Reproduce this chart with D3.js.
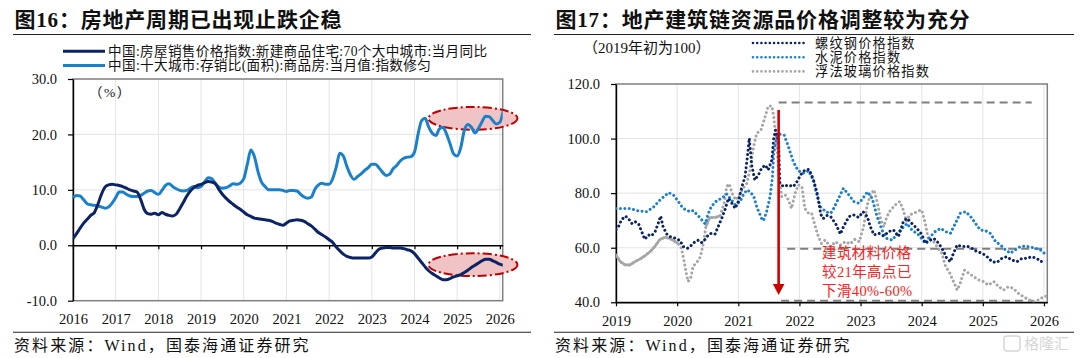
<!DOCTYPE html>
<html><head><meta charset="utf-8">
<script src="https://cdn.jsdelivr.net/npm/d3@7"></script>
<style>
html,body{margin:0;padding:0;background:#fff;}
svg{display:block;}
text{font-family:"Liberation Serif","Noto Sans CJK SC",serif;fill:#111;}
</style></head><body>
<svg id="c" width="1080" height="358"></svg>
<script>
// ---------------- LEFT CHART DATA (monthly, Jan 2016 onward) ----------------
const leftTitle = "图16：房地产周期已出现止跌企稳";
const leftLegend = ["中国:房屋销售价格指数:新建商品住宅:70个大中城市:当月同比", "中国:十大城市:存销比(面积):商品房:当月值:指数修匀"];
const leftYearTicks = [2016,2017,2018,2019,2020,2021,2022,2023,2024,2025,2026];
const leftValueTicks = [-10,0,10,20,30];
const priceYoY = [
 1.2,2.1,3.1,4.0,4.7,5.4,5.9,7.4,9.2,10.5,10.9,11.0,
 10.9,10.8,10.6,10.3,10.0,9.8,9.6,8.3,6.5,5.7,5.6,5.8,
 5.5,5.9,5.6,5.4,5.3,5.6,6.6,7.7,8.9,9.8,10.4,10.8,
 11.0,11.3,11.5,11.4,11.1,10.1,9.2,8.5,7.9,7.4,6.9,6.5,
 6.0,5.5,5.2,4.9,4.8,4.7,4.6,4.5,4.3,4.0,3.8,3.6,
 4.0,4.4,4.5,4.6,4.5,4.3,3.9,3.5,2.9,2.3,1.9,1.5,
 1.0,0.5,-0.3,-1.0,-1.6,-2.0,-2.2,-2.3,-2.3,-2.3,-2.3,-2.3,
 -2.1,-1.4,-0.7,-0.5,-0.4,-0.4,-0.5,-0.5,-0.5,-0.6,-0.8,-1.0,
 -1.5,-2.3,-3.1,-3.9,-4.6,-5.1,-5.5,-5.9,-6.2,-6.2,-6.0,-5.7,
 -5.5,-5.3,-4.9,-4.5,-4.0,-3.6,-3.2,-2.8,-2.5,-2.5,-2.8,-3.1,
 -3.4,-3.6];
const stockSalesRatio = [
 8.6,9.0,8.9,8.2,7.5,7.3,7.2,7.1,6.9,6.7,6.9,7.6,
 8.6,9.6,9.6,9.2,8.9,8.8,8.8,9.0,9.4,9.8,9.9,9.5,
 9.2,9.9,10.8,11.1,10.6,10.2,9.9,9.8,9.9,10.3,10.6,10.4,
 10.6,11.4,12.2,12.0,11.2,10.5,10.3,10.4,10.7,11.1,11.0,11.2,
 12.0,14.6,17.2,16.0,13.3,11.4,10.6,10.0,10.0,10.0,10.0,9.9,
 9.7,9.9,9.9,9.8,9.2,8.7,8.5,8.7,10.1,10.9,11.2,11.0,
 11.0,12.0,14.1,16.6,16.1,14.2,12.7,11.9,12.4,12.9,13.5,14.0,
 14.6,14.6,14.0,13.2,12.6,12.8,13.8,14.4,15.2,15.7,15.9,16.0,
 16.8,20.0,22.5,22.9,21.3,20.2,19.8,21.0,21.3,20.1,18.3,16.5,
 16.1,17.6,20.7,21.8,21.3,20.3,21.1,22.3,23.3,23.2,22.5,21.9,
 22.2,24.4];

// ---------------- RIGHT CHART DATA ([year, index]) ----------------
const rightTitle = "图17：地产建筑链资源品价格调整较为充分";
const rightLegend = ["螺纹钢价格指数","水泥价格指数","浮法玻璃价格指数"];
const rightYearTicks = [2019,2020,2021,2022,2023,2024,2025,2026];
const rightValueTicks = [40,60,80,100,120];
const rebar = [[2019.00,66.7],[2019.04,67.7],[2019.09,70.2],[2019.15,71.6],[2019.20,70.8],[2019.26,68.9],[2019.31,69.6],[2019.37,68.7],[2019.42,65.9],[2019.47,63.1],[2019.53,64.7],[2019.58,64.3],[2019.64,65.9],[2019.69,68.9],[2019.73,71.6],[2019.77,67.7],[2019.83,65.0],[2019.88,64.1],[2019.97,63.5],[2020.05,62.6],[2020.10,60.4],[2020.17,59.8],[2020.24,61.0],[2020.29,62.2],[2020.35,62.8],[2020.40,61.9],[2020.46,63.1],[2020.51,64.7],[2020.56,65.3],[2020.62,65.0],[2020.67,67.7],[2020.73,70.8],[2020.78,73.8],[2020.84,78.1],[2020.89,76.5],[2020.95,74.4],[2021.00,76.9],[2021.06,82.4],[2021.11,86.0],[2021.15,93.4],[2021.18,100.1],[2021.22,90.3],[2021.27,84.8],[2021.33,86.7],[2021.38,89.1],[2021.44,90.3],[2021.49,88.5],[2021.55,92.2],[2021.58,100.1],[2021.61,103.1],[2021.66,98.9],[2021.68,83.6],[2021.74,82.4],[2021.82,83.0],[2021.90,82.4],[2021.96,84.2],[2022.02,86.7],[2022.09,88.5],[2022.16,88.7],[2022.23,84.8],[2022.29,79.9],[2022.35,72.2],[2022.39,70.7],[2022.45,71.8],[2022.51,71.4],[2022.59,68.9],[2022.67,65.0],[2022.72,67.7],[2022.81,71.4],[2022.89,72.0],[2022.97,71.1],[2023.04,73.2],[2023.11,71.4],[2023.16,67.7],[2023.22,64.7],[2023.30,65.3],[2023.38,64.3],[2023.46,65.9],[2023.54,66.5],[2023.62,64.1],[2023.70,69.6],[2023.76,70.8],[2023.84,68.9],[2023.92,67.1],[2024.00,65.0],[2024.06,61.6],[2024.14,62.8],[2024.20,63.4],[2024.28,61.6],[2024.36,58.6],[2024.41,56.1],[2024.47,54.9],[2024.52,58.0],[2024.58,61.0],[2024.66,60.4],[2024.74,60.6],[2024.82,59.8],[2024.90,58.6],[2024.99,58.0],[2025.07,56.7],[2025.15,54.9],[2025.23,54.6],[2025.31,56.1],[2025.39,56.7],[2025.47,55.5],[2025.56,54.9],[2025.64,56.1],[2025.72,56.1],[2025.80,56.7],[2025.88,56.1],[2025.95,54.9],[2026.02,55.5]];
const cement = [[2019.00,74.4],[2019.23,74.4],[2019.34,73.6],[2019.50,73.2],[2019.61,74.8],[2019.72,77.5],[2019.86,80.2],[2019.94,79.3],[2020.02,76.9],[2020.10,74.4],[2020.21,73.2],[2020.26,73.6],[2020.35,71.6],[2020.46,68.7],[2020.51,72.6],[2020.56,75.1],[2020.65,77.3],[2020.73,78.1],[2020.81,79.7],[2020.89,77.5],[2020.95,75.7],[2021.03,76.9],[2021.08,79.3],[2021.14,81.2],[2021.19,80.5],[2021.25,79.0],[2021.30,75.1],[2021.38,70.8],[2021.41,69.9],[2021.46,72.9],[2021.52,78.7],[2021.56,86.0],[2021.58,94.6],[2021.63,100.7],[2021.68,101.6],[2021.75,101.3],[2021.82,97.0],[2021.90,91.5],[2021.98,88.2],[2022.06,87.3],[2022.15,88.2],[2022.23,84.8],[2022.28,79.9],[2022.34,75.1],[2022.43,73.2],[2022.51,72.6],[2022.56,74.4],[2022.64,78.1],[2022.72,81.8],[2022.81,79.3],[2022.89,76.9],[2022.97,76.3],[2023.04,78.1],[2023.11,80.5],[2023.19,78.1],[2023.27,71.4],[2023.35,66.5],[2023.43,63.4],[2023.52,62.8],[2023.60,65.3],[2023.68,67.1],[2023.76,68.9],[2023.84,66.5],[2023.95,64.7],[2024.06,61.6],[2024.14,64.1],[2024.22,65.9],[2024.31,67.1],[2024.39,65.9],[2024.47,65.3],[2024.55,68.9],[2024.63,72.6],[2024.72,73.2],[2024.80,71.4],[2024.88,68.9],[2024.96,66.5],[2025.04,66.3],[2025.12,65.3],[2025.21,62.2],[2025.29,61.0],[2025.37,59.2],[2025.45,58.0],[2025.53,59.2],[2025.61,60.4],[2025.70,60.6],[2025.78,60.2],[2025.86,59.8],[2025.94,59.2],[2026.02,57.7],[2026.05,58.0]];
const glass = [[2019.00,57.3],[2019.07,54.9],[2019.15,53.7],[2019.23,53.7],[2019.31,54.9],[2019.39,55.8],[2019.47,57.0],[2019.56,58.6],[2019.64,60.6],[2019.72,63.1],[2019.80,63.8],[2019.88,63.4],[2019.97,62.2],[2020.02,61.4],[2020.07,59.8],[2020.11,55.5],[2020.15,50.6],[2020.18,47.6],[2020.22,48.8],[2020.26,53.1],[2020.33,54.9],[2020.38,56.7],[2020.43,61.6],[2020.47,67.7],[2020.53,71.1],[2020.62,71.1],[2020.70,71.6],[2020.77,76.3],[2020.81,82.4],[2020.85,83.4],[2020.91,79.3],[2020.96,77.5],[2021.03,79.9],[2021.08,81.8],[2021.14,83.6],[2021.19,88.5],[2021.25,97.0],[2021.30,101.9],[2021.37,103.1],[2021.44,108.0],[2021.49,111.9],[2021.55,111.9],[2021.58,108.0],[2021.63,97.0],[2021.67,86.0],[2021.71,78.7],[2021.77,79.3],[2021.82,77.5],[2021.87,74.4],[2021.93,79.9],[2021.98,83.0],[2022.04,82.4],[2022.09,74.4],[2022.15,72.6],[2022.20,72.6],[2022.26,67.7],[2022.31,64.1],[2022.36,61.6],[2022.42,62.8],[2022.51,60.4],[2022.59,62.2],[2022.67,61.0],[2022.75,62.2],[2022.83,61.4],[2022.91,63.1],[2022.98,62.2],[2023.05,67.7],[2023.11,75.7],[2023.16,79.3],[2023.22,81.2],[2023.27,76.9],[2023.33,70.2],[2023.38,67.7],[2023.43,71.4],[2023.49,73.8],[2023.57,75.7],[2023.64,76.9],[2023.69,74.4],[2023.75,69.6],[2023.80,72.0],[2023.87,72.6],[2023.95,73.5],[2024.00,73.8],[2024.06,68.9],[2024.11,62.8],[2024.18,62.8],[2024.25,60.4],[2024.33,58.0],[2024.39,53.1],[2024.45,51.2],[2024.52,47.6],[2024.58,44.5],[2024.63,47.0],[2024.70,51.8],[2024.77,50.6],[2024.85,49.4],[2024.93,48.2],[2025.01,47.6],[2025.09,46.3],[2025.18,47.6],[2025.26,45.7],[2025.34,44.5],[2025.42,45.7],[2025.50,45.1],[2025.58,43.3],[2025.66,42.1],[2025.74,41.1],[2025.83,40.2],[2025.91,40.9],[2026.00,42.1],[2026.05,42.3]];
// reference levels: [value, fromYear, toYear]
const refLevels = [[113.2,2021.66,2025.80],[59.6,2021.80,2026.05],[40.6,2021.70,2025.83]];
const noteLines = ["建筑材料价格","较21年高点已","下滑40%-60%"];

// ---------------- DRAW ----------------
const svg = d3.select('#c');
const C_NAVY = '#0c2466', C_BLUE = '#1a80cc', C_CEM = '#1a7fcf', C_GRAY = '#a6a6a6';

function frame(x0, x1, title) {
  svg.append('text').attr('x', x0 + 1.5).attr('y', 27).text(title)
    .attr('font-size', 21).attr('font-weight', 700).attr('letter-spacing', 0.8);
  svg.append('line').attr('x1', x0).attr('x2', x1).attr('y1', 34.5).attr('y2', 34.5)
    .attr('stroke', '#222').attr('stroke-width', 1.1);
  svg.append('line').attr('x1', x0).attr('x2', x1).attr('y1', 332.2).attr('y2', 332.2)
    .attr('stroke', '#222').attr('stroke-width', 1.1);
  svg.append('text').attr('x', x0 + 1).attr('y', 351).text('资料来源：Wind，国泰海通证券研究')
    .attr('font-size', 16).attr('letter-spacing', 2.1);
}
frame(13, 531, leftTitle);
frame(554, 1074, rightTitle);

function styleAxis(g, color) {
  g.selectAll('.domain').attr('stroke', color).attr('stroke-width', 1.4);
  g.selectAll('.tick line').attr('stroke', color).attr('stroke-width', 1.2);
  g.selectAll('.tick text').attr('fill', '#111').attr('font-family', '"Liberation Serif",serif');
}

// ===== LEFT =====
const L = {x0: 73, x1: 502.7, y0: 79, y1: 300.7};
const lx = d3.scaleLinear().domain([2016, 2016 + 120.8 / 12]).range([L.x0, L.x1]);
const ly = d3.scaleLinear().domain([-10, 30]).range([L.y1, L.y0]);
const gL = svg.append('g');
gL.selectAll('line.vg').data(leftYearTicks.slice(1)).enter().append('line')
  .attr('x1', d => lx(d)).attr('x2', d => lx(d)).attr('y1', L.y0).attr('y2', L.y1)
  .attr('stroke', '#e4e4e4').attr('stroke-width', 1);
gL.selectAll('line.hg').data([10, 20]).enter().append('line')
  .attr('x1', L.x0).attr('x2', L.x1).attr('y1', d => ly(d)).attr('y2', d => ly(d))
  .attr('stroke', '#e4e4e4').attr('stroke-width', 1);
gL.append('rect').attr('x', L.x0).attr('y', L.y0).attr('width', L.x1 - L.x0).attr('height', L.y1 - L.y0)
  .attr('fill', 'none').attr('stroke', '#7f7f7f').attr('stroke-width', 1.5);

// ellipses (drawn under lines)
const ellipses = [[2025.37, 22.9], [2025.37, -3.5]];
gL.selectAll('ellipse').data(ellipses).enter().append('ellipse')
  .attr('cx', d => lx(d[0])).attr('cy', d => ly(d[1])).attr('rx', 44.5).attr('ry', 11.4)
  .attr('fill', '#f0c4c4').attr('stroke', '#c00000').attr('stroke-width', 2)
  .attr('stroke-dasharray', '9 3 2 3');

const ayL = gL.append('g').attr('transform', `translate(${L.x0},0)`)
  .call(d3.axisLeft(ly).tickValues(leftValueTicks).tickSize(5).tickPadding(11).tickSizeOuter(0).tickFormat(d => d.toFixed(1)));
ayL.selectAll('text').attr('font-size', 14.5);
styleAxis(ayL, '#000');
const axL0 = gL.append('g').attr('transform', `translate(0,${ly(0)})`)
  .call(d3.axisBottom(lx).tickValues(leftYearTicks).tickSize(4).tickSizeOuter(0).tickFormat(''));
styleAxis(axL0, '#000');
const axLb = gL.append('g').attr('transform', `translate(0,${L.y1})`)
  .call(d3.axisBottom(lx).tickValues(leftYearTicks).tickSize(0).tickPadding(13).tickFormat(d3.format('d')));
axLb.select('.domain').remove();
axLb.selectAll('text').attr('font-size', 14.5);
styleAxis(axLb, '#000');

svg.append('clipPath').attr('id', 'clipL').append('rect')
  .attr('x', L.x0).attr('y', L.y0 - 5).attr('width', L.x1 - L.x0).attr('height', L.y1 - L.y0 + 10);
const lineL = d3.line().x((d, i) => lx(2016 + i / 12)).y(d => ly(d)).curve(d3.curveMonotoneX);
gL.append('path').datum(stockSalesRatio).attr('d', lineL).attr('clip-path', 'url(#clipL)')
  .attr('fill', 'none').attr('stroke', C_BLUE).attr('stroke-width', 3).attr('stroke-linejoin', 'round');
gL.append('path').datum(priceYoY).attr('d', lineL).attr('clip-path', 'url(#clipL)')
  .attr('fill', 'none').attr('stroke', C_NAVY).attr('stroke-width', 3).attr('stroke-linejoin', 'round');

gL.append('text').attr('x', 89).attr('y', 92).attr('dominant-baseline', 'central')
  .attr('font-size', 13.5).attr('letter-spacing', 1.5).text('（%）');

// left legend
const legL = svg.append('g');
[C_NAVY, C_BLUE].forEach((c, i) => {
  const y = 51.2 + i * 14.4;
  legL.append('line').attr('x1', 63).attr('x2', 105).attr('y1', y).attr('y2', y)
    .attr('stroke', c).attr('stroke-width', 3);
  legL.append('text').attr('x', 108).attr('y', y).attr('dominant-baseline', 'central')
    .attr('font-size', 13.6).attr('letter-spacing', 0.35).text(leftLegend[i]);
});

// ===== RIGHT =====
const R = {x0: 616, x1: 1047.3, y0: 84, y1: 302.3};
const rx = d3.scaleLinear().domain([2019, 2019 + (1047.3 - 616) / 61.14]).range([R.x0, R.x1]);
const ry = d3.scaleLinear().domain([40, 120]).range([R.y1, R.y0]);
const gR = svg.append('g');
gR.selectAll('line.vg').data(rightYearTicks.slice(1)).enter().append('line')
  .attr('x1', d => rx(d)).attr('x2', d => rx(d)).attr('y1', R.y0).attr('y2', R.y1)
  .attr('stroke', '#e4e4e4').attr('stroke-width', 1);
gR.selectAll('line.hg').data([60, 80, 100]).enter().append('line')
  .attr('x1', R.x0).attr('x2', R.x1).attr('y1', d => ry(d)).attr('y2', d => ry(d))
  .attr('stroke', '#e4e4e4').attr('stroke-width', 1);
gR.append('rect').attr('x', R.x0).attr('y', R.y0).attr('width', R.x1 - R.x0).attr('height', R.y1 - R.y0)
  .attr('fill', 'none').attr('stroke', '#7f7f7f').attr('stroke-width', 1.5);

// reference dashed levels
gR.selectAll('line.ref').data(refLevels).enter().append('line')
  .attr('x1', d => rx(d[1])).attr('x2', d => rx(d[2])).attr('y1', d => ry(d[0])).attr('y2', d => ry(d[0]))
  .attr('stroke', '#7f7f7f').attr('stroke-width', 2).attr('stroke-dasharray', '8 5');

const ayR = gR.append('g').attr('transform', `translate(${R.x0},0)`)
  .call(d3.axisLeft(ry).tickValues(rightValueTicks).tickSize(5).tickPadding(11).tickSizeOuter(0).tickFormat(d => d.toFixed(1)));
ayR.selectAll('text').attr('font-size', 14.5);
styleAxis(ayR, '#000');
const axR = gR.append('g').attr('transform', `translate(0,${R.y1})`)
  .call(d3.axisBottom(rx).tickValues(rightYearTicks).tickSize(4).tickPadding(9).tickSizeOuter(0).tickFormat(d3.format('d')));
axR.selectAll('text').attr('font-size', 14.5);
styleAxis(axR, '#000');

svg.append('clipPath').attr('id', 'clipR').append('rect')
  .attr('x', R.x0).attr('y', R.y0).attr('width', R.x1 - R.x0).attr('height', R.y1 - R.y0);
const lineR = d3.line().x(d => rx(d[0])).y(d => ry(d[1]));
const dotted = (sel, c) => sel.attr('fill', 'none').attr('stroke', c).attr('stroke-width', 3)
  .attr('stroke-linecap', 'round').attr('stroke-dasharray', '0.01 4.4').attr('clip-path', 'url(#clipR)');
// glass: dense (solid-looking) stretches
const glassDense = [[2019.0, 2020.03], [2020.47, 2020.72]];
glassDense.forEach(r => {
  gR.append('path').datum(glass.filter(d => d[0] >= r[0] && d[0] <= r[1])).attr('d', lineR)
    .attr('fill', 'none').attr('stroke', C_GRAY).attr('stroke-width', 2.6).attr('stroke-linejoin', 'round')
    .attr('clip-path', 'url(#clipR)');
});
gR.append('path').datum(glass).attr('d', lineR).call(dotted, C_GRAY);
gR.append('path').datum(cement).attr('d', lineR).call(dotted, C_CEM);
gR.append('path').datum(rebar).attr('d', lineR).call(dotted, C_NAVY);

// red arrow
const ax = rx(2021.66), yTop = ry(110.5), yTip = ry(42.7);
gR.append('line').attr('x1', ax).attr('x2', ax).attr('y1', yTop).attr('y2', yTip - 9)
  .attr('stroke', '#d00000').attr('stroke-width', 2.6);
gR.append('path').attr('d', `M${ax - 5.8},${yTip - 11}L${ax + 5.8},${yTip - 11}L${ax},${yTip}Z`).attr('fill', '#d00000');

gR.selectAll('text.note').data(noteLines).enter().append('text')
  .attr('x', 822).attr('y', (d, i) => 253.3 + i * 18.8).attr('dominant-baseline', 'central')
  .attr('font-size', 14.5).attr('letter-spacing', 0.4).style('fill', '#ff2020').text(d => d);

svg.append('text').attr('x', 583).attr('y', 47.5).attr('dominant-baseline', 'central')
  .attr('font-size', 15).text('（2019年初为100）');

const legR = svg.append('g');
[C_NAVY, C_CEM, C_GRAY].forEach((c, i) => {
  const y = 43 + i * 14.2;
  legR.append('line').attr('x1', 753).attr('x2', 806).attr('y1', y).attr('y2', y)
    .attr('stroke', c).attr('stroke-width', 2.6).attr('stroke-linecap', 'round').attr('stroke-dasharray', '0.01 4.2');
  legR.append('text').attr('x', 815).attr('y', y).attr('dominant-baseline', 'central')
    .attr('font-size', 13.2).attr('letter-spacing', 1.2).text(rightLegend[i]);
});

// watermark
svg.append('rect').attr('x', 1004).attr('y', 336).attr('width', 16).attr('height', 15).attr('rx', 3)
  .attr('fill', 'none').attr('stroke', '#d6d6d6').attr('stroke-width', 1.5);
svg.append('text').attr('x', 1024).attr('y', 344).attr('dominant-baseline', 'central')
  .attr('font-size', 15).style('fill', '#d6d6d6').attr('font-family', '"Noto Sans CJK SC",sans-serif').text('格隆汇');
</script>
</body></html>
